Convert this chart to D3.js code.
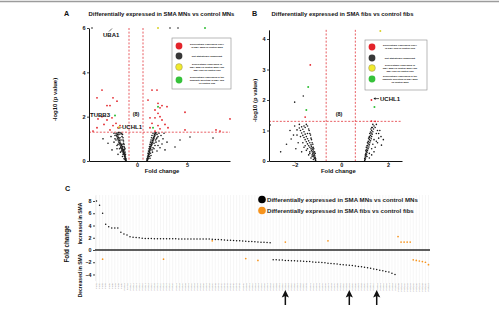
<!DOCTYPE html>
<html><head><meta charset="utf-8">
<script src="https://cdn.jsdelivr.net/npm/d3@7"></script>
<style>body{margin:0;background:#fff}svg{display:block;font-family:"Liberation Sans",Arial,sans-serif}</style>
</head><body><svg id="c" width="499" height="310"></svg>
<script>
// ---------------- DATA ----------------
const titleA = "Differentially expressed in SMA MNs vs control MNs";
const titleB = "Differentially expressed in SMA fibs vs control fibs";
// Volcano A: [fold change, -log10 p]
const volcA_black = [[-1.1,0.02],[-1.12,0.05],[-1.15,0.08],[-1.1,0.1],[-1.18,0.12],[-1.2,0.15],[-1.15,0.18],[-1.22,0.2],[-1.25,0.22],[-1.2,0.25],[-1.28,0.28],[-1.3,0.3],[-1.25,0.33],[-1.35,0.35],[-1.3,0.38],[-1.4,0.4],[-1.33,0.43],[-1.45,0.45],[-1.38,0.48],[-1.5,0.5],[-1.42,0.53],[-1.55,0.55],[-1.45,0.58],[-1.6,0.6],[-1.5,0.63],[-1.62,0.66],[-1.55,0.7],[-1.7,0.72],[-1.6,0.75],[-1.75,0.78],[-1.65,0.8],[-1.8,0.83],[-1.7,0.86],[-1.85,0.9],[-1.75,0.93],[-1.9,0.96],[-1.8,1.0],[-1.95,1.03],[-1.85,1.06],[-2.0,1.1],[-1.9,1.13],[-2.05,1.16],[-1.95,1.2],[-2.1,1.23],[-2.0,1.26],[-1.7,1.28],[-1.6,1.22],[-1.5,1.1],[-1.4,0.95],[-1.35,0.8],[-1.3,0.65],[-1.25,0.5],[-1.2,0.4],[-1.65,0.4],[-1.75,0.55],[-2.0,0.7],[-2.3,0.85],[-2.9,0.8],[-3.4,1.0],[-2.5,0.5],[-2.2,1.0],[-1.9,0.3],[-1.45,0.2],[-1.3,0.1],
 [-1.15,0.3],[-1.25,0.6],[-1.35,0.9],[-1.45,1.2],[-1.2,0.55],[-1.3,0.75],[-1.4,1.05],[-1.55,1.25],[-1.6,0.95],[-1.7,1.05],[-1.8,1.2],[-1.5,0.75],[-1.45,0.65],[-1.35,0.5],[-1.9,0.75],[-2.1,0.95],[-2.2,1.15],[-2.3,1.25],[-1.65,0.6],[-1.55,0.45],[-1.4,0.3],[-1.15,0.05],[-1.2,0.07],[-1.85,1.28],[-2.6,1.1],[-2.0,0.55],
 [1.0,0.02],[1.02,0.05],[1.05,0.08],[1.0,0.1],[1.08,0.12],[1.1,0.15],[1.05,0.18],[1.12,0.2],[1.15,0.23],[1.1,0.26],[1.18,0.28],[1.2,0.3],[1.15,0.33],[1.22,0.36],[1.25,0.4],[1.2,0.43],[1.28,0.46],[1.3,0.5],[1.25,0.53],[1.35,0.56],[1.3,0.6],[1.4,0.63],[1.35,0.66],[1.45,0.7],[1.4,0.73],[1.5,0.76],[1.45,0.8],[1.55,0.83],[1.5,0.86],[1.6,0.9],[1.55,0.93],[1.65,0.96],[1.6,1.0],[1.7,1.03],[1.65,1.06],[1.75,1.1],[1.7,1.13],[1.8,1.16],[1.75,1.2],[1.85,1.23],[1.8,1.26],[1.9,1.28],[2.0,1.2],[2.1,1.1],[1.95,1.0],[1.9,0.85],[1.8,0.7],[1.7,0.55],[1.55,0.4],[1.4,0.25],[2.2,0.9],[2.5,0.77],[2.8,0.5],[3.8,0.63],[4.3,0.95],[5.3,1.08],[7.6,1.04],[2.3,0.6],[2.0,0.45],[1.3,0.12],
 [1.1,0.35],[1.2,0.55],[1.3,0.75],[1.4,0.95],[1.5,1.15],[1.6,1.25],[1.45,1.05],[1.35,0.85],[1.25,0.65],[1.15,0.45],[1.7,0.8],[1.85,0.95],[2.0,1.05],[2.2,1.25],[2.4,1.15],[1.6,0.6],[1.5,0.5],[1.35,0.35],[1.25,0.2],[2.6,1.0],[3.0,0.85],[1.05,0.04],[1.12,0.1],[2.1,0.7],[2.7,1.25],
 [-4.5,6.0],[3.3,6.0],[4.1,6.0]];
const volcA_red = [[-3.5,3.2],[-4.0,2.85],[-2.4,2.85],[-2.0,2.7],[-3.0,2.5],[-2.7,2.5],[-3.9,1.9],[-3.5,2.0],[-3.0,1.85],[-2.5,1.95],[-4.0,1.5],[-4.4,1.35],[-2.4,1.6],[-1.9,1.5],[-1.7,1.6],[-2.1,1.7],[-3.3,1.65],[-2.7,1.4],
 [1.8,2.3],[2.3,2.4],[2.1,2.15],[1.3,1.95],[1.8,1.95],[2.3,2.0],[2.5,1.85],[1.5,1.7],[2.1,1.6],[2.8,1.65],[1.3,1.5],[2.3,1.45],[3.1,1.5],[1.8,1.35],[4.8,1.4],[4.8,2.2],[9.3,1.9],[7.9,1.4],[8.3,1.35],[1.5,3.2],[2.0,3.2],[1.1,2.75],[2.1,2.6],[2.5,2.5],[3.0,2.45]];
const volcA_yellow = [[2.1,6.0],[-1.8,1.52]];
const volcA_green = [[6.8,6.0],[2.1,2.45],[-2.2,2.05],[1.6,1.5]];
// Volcano B
const volcB_black = [[-1.1,0.02],[-1.12,0.04],[-1.1,0.07],[-1.15,0.09],[-1.12,0.12],[-1.18,0.14],[-1.14,0.17],[-1.2,0.19],[-1.16,0.22],[-1.22,0.25],[-1.18,0.27],[-1.25,0.3],[-1.2,0.33],[-1.28,0.35],[-1.22,0.38],[-1.3,0.4],[-1.25,0.43],[-1.35,0.45],[-1.28,0.48],[-1.4,0.5],[-1.3,0.53],[-1.45,0.56],[-1.35,0.6],[-1.5,0.63],[-1.4,0.66],[-1.55,0.7],[-1.45,0.73],[-1.6,0.77],[-1.5,0.8],[-1.65,0.84],[-1.55,0.88],[-1.7,0.92],[-1.6,0.96],[-1.75,1.0],[-1.65,1.04],[-1.8,1.08],[-1.7,1.12],[-1.9,1.02],[-2.15,0.72],[-2.35,0.55],[-3.05,1.18],[-1.85,0.6],[-1.95,0.4],[-1.7,0.3],[-2.05,0.85],[-1.4,0.2],[-1.3,0.1],[-1.2,0.05],[-1.6,0.45],[-2.6,0.3],[-1.25,0.15],[-1.35,0.25],[-1.5,0.35],[-1.45,0.9],[-1.55,1.1],
 [-1.15,0.3],[-1.2,0.45],[-1.25,0.6],[-1.3,0.75],[-1.35,0.9],[-1.4,1.05],[-1.45,1.15],[-1.5,1.2],[-1.6,1.15],[-1.8,1.2],[-2.0,1.15],[-1.75,0.8],[-1.65,0.6],[-1.55,0.5],[-1.45,0.4],[-1.35,0.3],[-1.25,0.2],[-1.15,0.1],[-1.12,0.25],[-1.18,0.4],[-1.22,0.55],[-1.28,0.7],[-1.32,0.85],[-1.38,1.0],[-2.2,1.0],[-1.9,0.85],
 [1.0,0.02],[1.02,0.05],[1.0,0.08],[1.04,0.1],[1.02,0.13],[1.06,0.16],[1.04,0.19],[1.08,0.22],[1.05,0.25],[1.1,0.28],[1.07,0.31],[1.12,0.34],[1.09,0.37],[1.15,0.4],[1.1,0.43],[1.18,0.46],[1.13,0.5],[1.2,0.53],[1.15,0.56],[1.22,0.6],[1.17,0.63],[1.25,0.66],[1.2,0.7],[1.28,0.73],[1.22,0.77],[1.3,0.8],[1.25,0.84],[1.32,0.88],[1.28,0.92],[1.35,0.96],[1.3,1.0],[1.38,1.05],[1.33,1.1],[1.4,1.15],[1.5,0.9],[1.6,0.75],[1.72,0.52],[1.55,0.6],[1.45,0.45],[1.65,1.0],[1.4,0.3],[1.3,0.2],[1.2,0.1],[1.8,0.7],[1.5,1.2],
 [1.05,0.35],[1.1,0.5],[1.15,0.65],[1.2,0.8],[1.25,0.95],[1.3,1.1],[1.35,1.2],[1.45,1.1],[1.55,1.0],[1.6,0.9],[1.4,0.7],[1.35,0.55],[1.3,0.4],[1.2,0.25],[1.1,0.15],[1.03,0.2],[1.07,0.45],[1.12,0.6],[1.17,0.75],[1.22,0.9],[1.27,1.05],[1.7,0.8],[1.5,0.65],
 [-1.63,2.13],[-2.0,1.93]];
const volcB_red = [[-1.33,3.15],[1.29,2.0],[1.29,1.31],[1.45,1.3],[-1.55,1.44]];
const volcB_yellow = [[1.67,4.26]];
const volcB_green = [[-1.42,2.43],[1.42,1.77],[-1.5,1.67]];
const legendA = [["Differentially expressed ONLY","in SMA MNs vs control MNs"],["Not statistically significant"],["Differentially expressed in","SMA MNs vs control MNs AND","SMA fibs vs control fibs"],["Differentially expressed in the","opposite direction in SMA fibs","vs control fibs"]];
const legendB = [["Differentially expressed ONLY","in SMA fibs vs control fibs"],["Not statistically significant"],["Differentially expressed in","SMA MNs vs control MNs AND","SMA fibs vs control fibs"],["Differentially expressed in the","opposite direction in SMA MNs","vs control MNs"]];
// Panel C
const categories = d3.range(1, 111).map(i => "Prot" + i);
const mnFC = [8.0,7.3,6.0,4.2,3.8,3.6,3.6,3.6,2.9,2.6,2.45,2.15,2.1,2.05,2.0,
 1.9,1.88,1.87,1.86,1.85,1.85,1.84,1.84,1.83,1.83,1.82,1.82,1.81,1.81,1.8,1.8,1.8,1.79,1.79,1.79,1.78,1.78,1.78,
 1.76,1.73,1.7,1.67,1.64,1.61,1.58,1.55,1.52,1.49,1.46,1.43,1.4,1.37,1.34,1.31,1.28,1.25,1.22,1.18,
 -1.6,-1.6,-1.65,-1.65,-1.7,-1.7,-1.75,-1.75,-1.8,-1.8,-1.85,-1.9,-1.9,-1.95,-2.0,-2.0,-2.05,-2.1,-2.15,-2.2,-2.25,-2.3,-2.35,-2.4,-2.45,-2.5,-2.55,-2.6,-2.7,-2.75,-2.8,-2.9,-3.0,-3.1,-3.2,-3.3,-3.4,-3.5,-3.6,-3.8,-4.0];
const fibIdx = [2,22,38,49,53,62,76,99,100,101,102,103,104,105,106,107,108,109];
const fibFC = [-1.5,-1.5,1.5,-1.4,-1.7,1.3,1.5,2.2,1.3,1.3,1.3,1.3,-1.6,-1.7,-1.8,-1.9,-2.0,-2.4];
const arrowIdx = [62, 83, 92];
const yTicksC = [-4,-2,0,2,4,6,8];
const legendC = ["Differentially expressed in SMA MNs vs control MNs","Differentially expressed in SMA fibs vs control fibs"];

// ---------------- DRAW ----------------
const FONT = '"Liberation Sans", Arial, sans-serif';
const svg = d3.select('#c');
svg.append('line').attr('x1',0).attr('x2',499).attr('y1',1.5).attr('y2',1.5).attr('stroke','#9c9c9c').attr('stroke-width',1.3);
const legendCols = ['#e3242b','#383838','#f1ea2c','#36c23a'];

function txt(g, x, y, s, size, opts={}) {
  const t = g.append('text').attr('x',x).attr('y',y).text(s).attr('font-size',size)
    .attr('font-weight', opts.weight || 'bold').attr('fill', opts.fill || '#111')
    .attr('text-anchor', opts.anchor || 'start').attr('font-family', FONT);
  if (opts.rotate) t.attr('transform',`rotate(-90 ${x} ${y})`);
  return t;
}
function styleAxis(a, size) {
  a.attr('font-family', FONT).attr('font-size', size).attr('font-weight','bold');
  a.select('.domain').attr('stroke','#111').attr('stroke-width',1);
  a.selectAll('.tick line').attr('stroke','#111').attr('stroke-width',0.8);
  a.selectAll('.tick text').attr('fill','#111');
}

function volcano(c) {
  const g = svg.append('g');
  const x = d3.scaleLinear().domain(c.xDom).range([c.L, c.R]);
  const y = d3.scaleLinear().domain(c.yDom).range([c.B, c.T]);
  c.vThr.forEach(v => g.append('line').attr('x1',x(v)).attr('x2',x(v)).attr('y1',c.T).attr('y2',c.B)
    .attr('stroke','#e2343a').attr('stroke-width',0.8).attr('stroke-dasharray','2,1.6'));
  g.append('line').attr('x1',c.L).attr('x2',c.R).attr('y1',y(c.hThr)).attr('y2',y(c.hThr))
    .attr('stroke','#e2343a').attr('stroke-width',0.8).attr('stroke-dasharray','2,1.6');
  [[c.black,'#1b1b1b',0.8],[c.red,'#e3242b',0.9],[c.yellow,'#d9d22a',1.0],[c.green,'#2fbf35',1.0]].forEach(([pts,col,r]) =>
    g.append('g').selectAll('circle').data(pts).join('circle')
      .attr('cx',d=>x(d[0])).attr('cy',d=>y(d[1])).attr('r',r).attr('fill',col));
  const ay = g.append('g').attr('transform',`translate(${c.L},0)`)
    .call(d3.axisLeft(y).tickValues(c.yTicks).tickSize(2).tickSizeOuter(0).tickPadding(1.5).tickFormat(d3.format('d')));
  const ax = g.append('g').attr('transform',`translate(0,${c.B})`)
    .call(d3.axisBottom(x).tickValues(c.xTicks).tickSize(1.5).tickSizeOuter(0).tickPadding(0.3).tickFormat(d3.format('d')));
  styleAxis(ay, 5.5); styleAxis(ax, 5.5);
  txt(g, c.ylabX, (c.T + c.B)/2 + 5, "-log10 (p value)", 5.9, {anchor:'middle', rotate:true});
  txt(g, x(0) + c.xlabOff, c.B + 12, "Fold change", 5.9, {anchor:'middle'});
  txt(g, c.letterX, 15.5, c.letter, 7.2);
  txt(g, c.titleX, 16, c.title, 5.9, {anchor:'middle'});
  // legend
  const lg = g.append('g');
  lg.append('rect').attr('x',c.lg[0]).attr('y',c.lg[1]).attr('width',c.lg[2]).attr('height',c.lg[3])
    .attr('fill','#fff').attr('stroke','#8a8a8a').attr('stroke-width',0.6);
  c.legend.forEach((lines,i) => {
    const cy = c.lgRows[i];
    lg.append('circle').attr('cx',c.lg[0]+7).attr('cy',cy).attr('r',3.4).attr('fill',legendCols[i])
      .attr('stroke', i===2 ? '#777' : 'none').attr('stroke-width',0.4);
    lines.forEach((s,j) => txt(lg, c.lg[0]+35, cy + 0.9 + (j - (lines.length-1)/2)*2.9, s, 2.4, {anchor:'middle'}));
  });
  return {x, y, g};
}

const A = volcano({L:89, R:230, T:28, B:161, xDom:[-4.8,9.3], yDom:[0,6], xTicks:[0,5], yTicks:[0,2,4,6],
  vThr:[-0.8,0.6], hThr:1.3, black:volcA_black, red:volcA_red, yellow:volcA_yellow, green:volcA_green,
  ylabX:57, xlabOff:25, letter:'A', letterX:64, title:titleA, titleX:161.5,
  lg:[172,38,59,51], lgRows:[46,56,67,80], legend:legendA});
txt(A.g, 103, 37, "UBA1", 6);
A.g.append('line').attr('x1',109).attr('y1',31.5).attr('x2',112).attr('y2',28.5).attr('stroke','#111').attr('stroke-width',0.6);
txt(A.g, 90, 117, "TUBB3", 6);
txt(A.g, 122, 129, "UCHL1", 6);
A.g.append('line').attr('x1',121.5).attr('y1',127.5).attr('x2',118.5).attr('y2',128.5).attr('stroke','#111').attr('stroke-width',0.6);
txt(A.g, A.x(-0.1), 116, "(8)", 5.5, {anchor:'middle'});

const B = volcano({L:269, R:402, T:29.85, B:161, xDom:[-3.1,2.6], yDom:[0,4.3], xTicks:[-2,0,2], yTicks:[0,1,2,3,4],
  vThr:[-0.65,0.6], hThr:1.3, black:volcB_black, red:volcB_red, yellow:volcB_yellow, green:volcB_green,
  ylabX:257, xlabOff:-3, letter:'B', letterX:252, title:titleB, titleX:342.5,
  lg:[365,40,62,50], lgRows:[47,58,68,79], legend:legendB});
txt(B.g, 380, 100.5, "UCHL1", 6);
B.g.append('line').attr('x1',374.5).attr('y1',98.6).attr('x2',379).attr('y2',98.6).attr('stroke','#111').attr('stroke-width',0.7);
B.g.append('path').attr('d','M373.5,98.6 l2,-1.3 l0,2.6 z').attr('fill','#111');
txt(B.g, B.x(-0.1), 115.5, "(8)", 5.5, {anchor:'middle'});

// Panel C
const gc = svg.append('g');
const xC = d3.scaleBand().domain(categories).range([95, 430]);
const yC = d3.scaleLinear().domain([-5, 9]).range([280.6, 194.9]);
const cx = i => xC(categories[i]) + xC.bandwidth()/2;
gc.append('g').selectAll('line').data(categories).join('line')
  .attr('x1',d=>xC(d)+xC.bandwidth()/2).attr('x2',d=>xC(d)+xC.bandwidth()/2)
  .attr('y1',195).attr('y2',283).attr('stroke','#ececec').attr('stroke-width',0.5);
const ayC = gc.append('g').attr('transform','translate(95,0)')
  .call(d3.axisLeft(yC).tickValues(yTicksC).tickSize(2).tickSizeOuter(0).tickPadding(1.5).tickFormat(d3.format('d')));
styleAxis(ayC, 5.3);
ayC.select('.domain').attr('stroke','#e0e0e0').attr('stroke-width',0.5);
gc.append('line').attr('x1',95).attr('x2',430).attr('y1',yC(0)).attr('y2',yC(0)).attr('stroke','#2a2a2a').attr('stroke-width',1.6);
gc.append('g').selectAll('circle').data(mnFC).join('circle')
  .attr('cx',(d,i)=>cx(i)).attr('cy',d=>yC(d)).attr('r',0.75).attr('fill','#111');
gc.append('g').selectAll('circle').data(fibFC).join('circle')
  .attr('cx',(d,i)=>cx(fibIdx[i])).attr('cy',d=>yC(d)).attr('r',0.85).attr('fill','#f7941d');
gc.append('g').selectAll('text').data(categories).join('text')
  .attr('transform',(d,i)=>`translate(${cx(i)+0.8},283) rotate(-90)`)
  .attr('text-anchor','end').attr('font-size',2.5).attr('fill','#8a8a8a').attr('font-family',FONT).text(d=>d);
arrowIdx.forEach(i => {
  const x = cx(i);
  gc.append('line').attr('x1',x).attr('x2',x).attr('y1',296).attr('y2',305).attr('stroke','#111').attr('stroke-width',1.5);
  gc.append('path').attr('d',`M${x},290 L${x+3.6},297.5 L${x},296 L${x-3.6},297.5 Z`).attr('fill','#111');
});
txt(gc, 65, 191, "C", 7.2);
txt(gc, 69, 244, "Fold change", 6.3, {anchor:'middle', rotate:true});
txt(gc, 82, 223.5, "Increased in SMA", 5, {anchor:'middle', rotate:true});
txt(gc, 82, 275.5, "Decreased in SMA", 5, {anchor:'middle', rotate:true});
[['#000',199.5],['#f7941d',210.5]].forEach(([col,yy],i) => {
  gc.append('circle').attr('cx',262).attr('cy',yy).attr('r',3.8).attr('fill',col);
  txt(gc, 267, yy + 2, legendC[i], 6.1, {fill:'#222'});
});
</script></body></html>
